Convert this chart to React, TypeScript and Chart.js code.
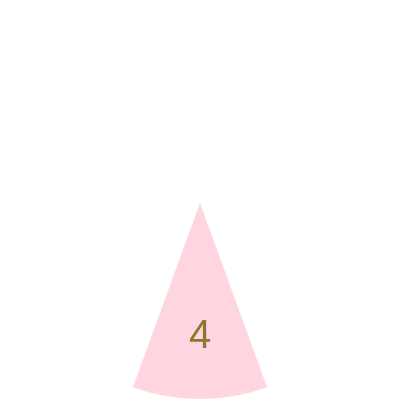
import React, { useEffect, useRef } from "react";
import { Chart, registerables } from "chart.js";

Chart.register(...registerables);

const labels = ["A", "B", "C", "D", "E", "F", "G", "H", "I"];
const values = [0, 0, 0, 0, 4, 0, 0, 0, 0];
const sliceColor = "rgb(255, 214, 224)";
const labelColor = "rgb(138, 120, 48)";

const valueLabelPlugin = {
  id: "valueLabels",
  afterDatasetsDraw(chart: any) {
    const ctx = chart.ctx;
    const meta = chart.getDatasetMeta(0);
    ctx.save();
    ctx.fillStyle = labelColor;
    ctx.font = "normal 40px 'Liberation Sans', Arial, sans-serif";
    ctx.textAlign = "center";
    ctx.textBaseline = "middle";
    meta.data.forEach((arc: any, i: number) => {
      const v = values[i];
      if (!v) return;
      const p = arc.getProps(["x", "y", "startAngle", "endAngle", "outerRadius"], true);
      const mid = (p.startAngle + p.endAngle) / 2;
      const r = p.outerRadius * 0.685;
      ctx.fillText(String(v), p.x + Math.cos(mid) * r, p.y + Math.sin(mid) * r);
    });
    ctx.restore();
  },
};

export default function App() {
  const ref = useRef<HTMLCanvasElement | null>(null);
  useEffect(() => {
    if (!ref.current) return;
    const chart = new Chart(ref.current, {
      type: "polarArea",
      data: {
        labels,
        datasets: [
          {
            data: values,
            backgroundColor: labels.map(() => sliceColor),
            borderColor: "#ffffff",
            borderWidth: 2,
          },
        ],
      },
      options: {
        animation: false,
        responsive: false,
        maintainAspectRatio: false,
        layout: { padding: 0 },
        plugins: { legend: { display: false }, tooltip: { enabled: false } },
        scales: { r: { display: false, min: 0, max: 4 } },
      },
      plugins: [valueLabelPlugin],
    });
    return () => chart.destroy();
  }, []);
  return (
    <div style={{ position: "fixed", left: 0, top: 0, width: 400, height: 400, background: "#fff" }}>
      <canvas ref={ref} width={400} height={400} style={{ width: 400, height: 400 }} />
    </div>
  );
}
